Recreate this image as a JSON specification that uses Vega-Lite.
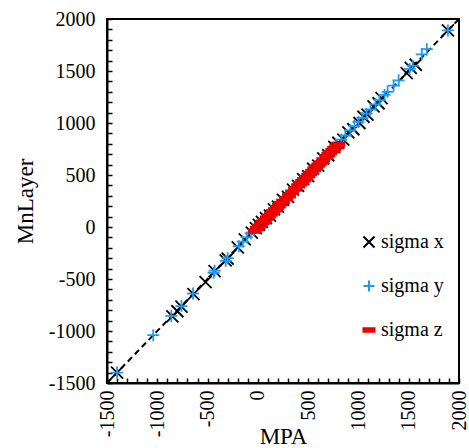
{
  "$schema": "https://vega.github.io/schema/vega-lite/v6.json",
  "autosize": "none",
  "width": 352,
  "height": 364,
  "padding": {"left": 107, "top": 19, "right": 10, "bottom": 65},
  "background": "white",
  "config": {
    "view": {"stroke": "black", "strokeWidth": 2},
    "font": "Liberation Serif"
  },
  "datasets": {
    "pts": [
      {"s": "sigma x", "MPA": -1400, "MnLayer": -1400},
      {"s": "sigma x", "MPA": -850, "MnLayer": -860},
      {"s": "sigma x", "MPA": -800, "MnLayer": -810},
      {"s": "sigma x", "MPA": -760, "MnLayer": -765},
      {"s": "sigma x", "MPA": -640, "MnLayer": -645},
      {"s": "sigma x", "MPA": -520, "MnLayer": -530},
      {"s": "sigma x", "MPA": -430, "MnLayer": -425},
      {"s": "sigma x", "MPA": -320, "MnLayer": -320},
      {"s": "sigma x", "MPA": -300, "MnLayer": -305},
      {"s": "sigma x", "MPA": -200, "MnLayer": -195},
      {"s": "sigma x", "MPA": -130, "MnLayer": -120},
      {"s": "sigma x", "MPA": -60, "MnLayer": -55},
      {"s": "sigma x", "MPA": -20, "MnLayer": -10},
      {"s": "sigma x", "MPA": 10, "MnLayer": 20},
      {"s": "sigma x", "MPA": 40, "MnLayer": 50},
      {"s": "sigma x", "MPA": 80, "MnLayer": 85},
      {"s": "sigma x", "MPA": 120, "MnLayer": 110},
      {"s": "sigma x", "MPA": 160, "MnLayer": 170},
      {"s": "sigma x", "MPA": 200, "MnLayer": 195},
      {"s": "sigma x", "MPA": 250, "MnLayer": 260},
      {"s": "sigma x", "MPA": 300, "MnLayer": 290},
      {"s": "sigma x", "MPA": 350, "MnLayer": 360},
      {"s": "sigma x", "MPA": 400, "MnLayer": 395},
      {"s": "sigma x", "MPA": 450, "MnLayer": 460},
      {"s": "sigma x", "MPA": 500, "MnLayer": 490},
      {"s": "sigma x", "MPA": 550, "MnLayer": 560},
      {"s": "sigma x", "MPA": 600, "MnLayer": 590},
      {"s": "sigma x", "MPA": 650, "MnLayer": 660},
      {"s": "sigma x", "MPA": 700, "MnLayer": 690},
      {"s": "sigma x", "MPA": 760, "MnLayer": 770},
      {"s": "sigma x", "MPA": 800, "MnLayer": 810},
      {"s": "sigma x", "MPA": 850, "MnLayer": 840},
      {"s": "sigma x", "MPA": 900, "MnLayer": 910},
      {"s": "sigma x", "MPA": 950, "MnLayer": 940},
      {"s": "sigma x", "MPA": 1010, "MnLayer": 1000},
      {"s": "sigma x", "MPA": 1050, "MnLayer": 1060},
      {"s": "sigma x", "MPA": 1090, "MnLayer": 1080},
      {"s": "sigma x", "MPA": 1150, "MnLayer": 1160},
      {"s": "sigma x", "MPA": 1200, "MnLayer": 1190},
      {"s": "sigma x", "MPA": 1230, "MnLayer": 1240},
      {"s": "sigma x", "MPA": 1480, "MnLayer": 1480},
      {"s": "sigma x", "MPA": 1520, "MnLayer": 1530},
      {"s": "sigma x", "MPA": 1570, "MnLayer": 1560},
      {"s": "sigma x", "MPA": 1890, "MnLayer": 1890},
      {"s": "sigma y", "MPA": -1400, "MnLayer": -1400},
      {"s": "sigma y", "MPA": -1040, "MnLayer": -1040},
      {"s": "sigma y", "MPA": -860, "MnLayer": -855},
      {"s": "sigma y", "MPA": -760, "MnLayer": -760},
      {"s": "sigma y", "MPA": -645, "MnLayer": -640},
      {"s": "sigma y", "MPA": -440, "MnLayer": -440},
      {"s": "sigma y", "MPA": -430, "MnLayer": -420},
      {"s": "sigma y", "MPA": -320, "MnLayer": -325},
      {"s": "sigma y", "MPA": -300, "MnLayer": -300},
      {"s": "sigma y", "MPA": -190, "MnLayer": -185},
      {"s": "sigma y", "MPA": -150, "MnLayer": -140},
      {"s": "sigma y", "MPA": -110, "MnLayer": -100},
      {"s": "sigma y", "MPA": -70, "MnLayer": -60},
      {"s": "sigma y", "MPA": -40, "MnLayer": -30},
      {"s": "sigma y", "MPA": -10, "MnLayer": 0},
      {"s": "sigma y", "MPA": 20, "MnLayer": 10},
      {"s": "sigma y", "MPA": 50, "MnLayer": 60},
      {"s": "sigma y", "MPA": 700, "MnLayer": 720},
      {"s": "sigma y", "MPA": 780, "MnLayer": 790},
      {"s": "sigma y", "MPA": 830, "MnLayer": 840},
      {"s": "sigma y", "MPA": 870, "MnLayer": 880},
      {"s": "sigma y", "MPA": 920, "MnLayer": 930},
      {"s": "sigma y", "MPA": 960, "MnLayer": 970},
      {"s": "sigma y", "MPA": 1000, "MnLayer": 1010},
      {"s": "sigma y", "MPA": 1040, "MnLayer": 1050},
      {"s": "sigma y", "MPA": 1080, "MnLayer": 1090},
      {"s": "sigma y", "MPA": 1120, "MnLayer": 1130},
      {"s": "sigma y", "MPA": 1170, "MnLayer": 1180},
      {"s": "sigma y", "MPA": 1210, "MnLayer": 1220},
      {"s": "sigma y", "MPA": 1260, "MnLayer": 1270},
      {"s": "sigma y", "MPA": 1290, "MnLayer": 1300},
      {"s": "sigma y", "MPA": 1350, "MnLayer": 1360},
      {"s": "sigma y", "MPA": 1400, "MnLayer": 1410},
      {"s": "sigma y", "MPA": 1510, "MnLayer": 1520},
      {"s": "sigma y", "MPA": 1540, "MnLayer": 1550},
      {"s": "sigma y", "MPA": 1630, "MnLayer": 1660},
      {"s": "sigma y", "MPA": 1680, "MnLayer": 1710},
      {"s": "sigma y", "MPA": 1890, "MnLayer": 1890},
      {"s": "sigma z", "MPA": -30, "MnLayer": -40},
      {"s": "sigma z", "MPA": -10, "MnLayer": -15},
      {"s": "sigma z", "MPA": 10, "MnLayer": 5},
      {"s": "sigma z", "MPA": 30, "MnLayer": 25},
      {"s": "sigma z", "MPA": 50, "MnLayer": 45},
      {"s": "sigma z", "MPA": 70, "MnLayer": 65},
      {"s": "sigma z", "MPA": 90, "MnLayer": 85},
      {"s": "sigma z", "MPA": 110, "MnLayer": 105},
      {"s": "sigma z", "MPA": 130, "MnLayer": 125},
      {"s": "sigma z", "MPA": 150, "MnLayer": 145},
      {"s": "sigma z", "MPA": 170, "MnLayer": 165},
      {"s": "sigma z", "MPA": 190, "MnLayer": 185},
      {"s": "sigma z", "MPA": 210, "MnLayer": 205},
      {"s": "sigma z", "MPA": 230, "MnLayer": 225},
      {"s": "sigma z", "MPA": 250, "MnLayer": 245},
      {"s": "sigma z", "MPA": 280, "MnLayer": 275},
      {"s": "sigma z", "MPA": 310, "MnLayer": 300},
      {"s": "sigma z", "MPA": 340, "MnLayer": 335},
      {"s": "sigma z", "MPA": 370, "MnLayer": 365},
      {"s": "sigma z", "MPA": 400, "MnLayer": 395},
      {"s": "sigma z", "MPA": 420, "MnLayer": 415},
      {"s": "sigma z", "MPA": 440, "MnLayer": 435},
      {"s": "sigma z", "MPA": 460, "MnLayer": 455},
      {"s": "sigma z", "MPA": 480, "MnLayer": 475},
      {"s": "sigma z", "MPA": 500, "MnLayer": 495},
      {"s": "sigma z", "MPA": 520, "MnLayer": 515},
      {"s": "sigma z", "MPA": 540, "MnLayer": 535},
      {"s": "sigma z", "MPA": 560, "MnLayer": 555},
      {"s": "sigma z", "MPA": 580, "MnLayer": 575},
      {"s": "sigma z", "MPA": 600, "MnLayer": 595},
      {"s": "sigma z", "MPA": 620, "MnLayer": 615},
      {"s": "sigma z", "MPA": 650, "MnLayer": 645},
      {"s": "sigma z", "MPA": 680, "MnLayer": 675},
      {"s": "sigma z", "MPA": 700, "MnLayer": 695},
      {"s": "sigma z", "MPA": 720, "MnLayer": 715},
      {"s": "sigma z", "MPA": 740, "MnLayer": 735},
      {"s": "sigma z", "MPA": 760, "MnLayer": 755},
      {"s": "sigma z", "MPA": 780, "MnLayer": 775},
      {"s": "sigma z", "MPA": 800, "MnLayer": 795}
    ],
    "line": [
      {"MPA": -1500, "MnLayer": -1500},
      {"MPA": 2000, "MnLayer": 2000}
    ]
  },
  "layer": [
    {
      "data": {"name": "line"},
      "mark": {"type": "line", "color": "black", "strokeWidth": 2, "strokeDash": [6, 4]},
      "encoding": {
        "x": {"field": "MPA", "type": "quantitative", "scale": {"domain": [-1500, 2000], "nice": false, "zero": false},
          "axis": {
            "values": [-1500,-1400,-1300,-1200,-1100,-1000,-900,-800,-700,-600,-500,-400,-300,-200,-100,0,100,200,300,400,500,600,700,800,900,1000,1100,1200,1300,1400,1500,1600,1700,1800,1900,2000],
            "tickCount": 50,
            "labelExpr": "datum.value % 500 === 0 ? toString(datum.value) : ''",
            "grid": false,
            "domainColor": "black", "domainWidth": 2,
            "tickColor": "black", "tickWidth": 1.5, "tickSize": -5,
            "labelAngle": -90, "labelAlign": "right", "labelBaseline": "middle",
            "labelFont": "Liberation Serif", "labelFontSize": 20, "labelColor": "black",
            "labelPadding": 12, "labelOverlap": false, "labelFlush": false, "labelSeparation": 0,
            "title": "MPA", "titleFont": "Liberation Serif", "titleFontSize": 23, "titleFontWeight": "normal", "titleColor": "black",
            "titleBaseline": "alphabetic", "titleY": 60
          }
        },
        "y": {"field": "MnLayer", "type": "quantitative", "scale": {"domain": [-1500, 2000], "nice": false, "zero": false},
          "axis": {
            "values": [-1500,-1400,-1300,-1200,-1100,-1000,-900,-800,-700,-600,-500,-400,-300,-200,-100,0,100,200,300,400,500,600,700,800,900,1000,1100,1200,1300,1400,1500,1600,1700,1800,1900,2000],
            "tickCount": 50,
            "labelExpr": "datum.value % 500 === 0 ? toString(datum.value) : ''",
            "grid": false,
            "domainColor": "black", "domainWidth": 2,
            "tickColor": "black", "tickWidth": 1.5, "tickSize": -5,
            "labelFont": "Liberation Serif", "labelFontSize": 20, "labelColor": "black",
            "labelPadding": 17, "labelOverlap": false, "labelFlush": false, "labelSeparation": 0,
            "title": "MnLayer", "titleFont": "Liberation Serif", "titleFontSize": 23, "titleFontWeight": "normal", "titleColor": "black",
            "titleX": -82, "titleBaseline": "middle"
          }
        }
      }
    },
    {
      "data": {"name": "pts"},
      "mark": {"type": "point", "strokeWidth": 1.8, "opacity": 1},
      "encoding": {
        "x": {"field": "MPA", "type": "quantitative"},
        "y": {"field": "MnLayer", "type": "quantitative"},
        "shape": {"field": "s", "type": "nominal", "scale": {"domain": ["sigma x", "sigma y", "sigma z"], "range": ["M-1,-1L1,1M-1,1L1,-1", "M-1,0L1,0M0,-1L0,1", "M-1,-0.3L1,-0.3L1,0.3L-1,0.3Z"]},
          "legend": {
            "title": null, "orient": "none", "legendX": 252, "legendY": 213,
            "labelFont": "Liberation Serif", "labelFontSize": 20, "labelColor": "black",
            "rowPadding": 24, "symbolSize": 121, "symbolStrokeWidth": 2, "labelOffset": 2,
            "symbolOpacity": 1
          }
        },
        "stroke": {"field": "s", "type": "nominal", "scale": {"domain": ["sigma x", "sigma y", "sigma z"], "range": ["#000000", "#1E9BF0", "#E80000"]}},
        "fill": {"field": "s", "type": "nominal", "scale": {"domain": ["sigma x", "sigma y", "sigma z"], "range": ["transparent", "transparent", "#FF0000"]}},
        "size": {"value": 144}
      }
    }
  ]
}
